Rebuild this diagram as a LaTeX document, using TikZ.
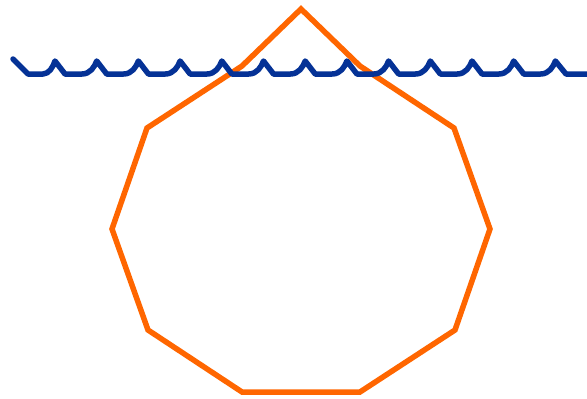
\documentclass[tikz,border=0pt]{standalone}
\definecolor{shapeorange}{RGB}{255,102,0}
\definecolor{waveblue}{RGB}{5,50,150}
\tikzset{
  outline/.style={draw=shapeorange, line width=5.5pt, line join=miter},
  wave/.style={draw=waveblue, line width=5.5pt, line join=round, line cap=round}
}
\begin{document}
\begin{tikzpicture}[x=1pt,y=-1pt]
\useasboundingbox (0,0) rectangle (587,399);
\draw[outline] (301,9) -- (360,66) -- (454,128) -- (490,229) -- (455,330) -- (360,392)
  -- (242,392) -- (148,330) -- (112,229) -- (147,128) -- (242,66) -- cycle;
\draw[wave] (13,59) -- (28,74) -- (43,74) .. controls (49,74) and (53,67) .. (55,61)
  \foreach \k in {0,...,11} {
    -- ({55+41.7*\k+10},74) -- ({55+41.7*\k+27},74)
    .. controls ({55+41.7*\k+35},74) and ({55+41.7*\k+39.5},67) .. ({55+41.7*(\k+1)},61)
  }
  -- (566,74) -- (590,74);
\end{tikzpicture}
\end{document}
